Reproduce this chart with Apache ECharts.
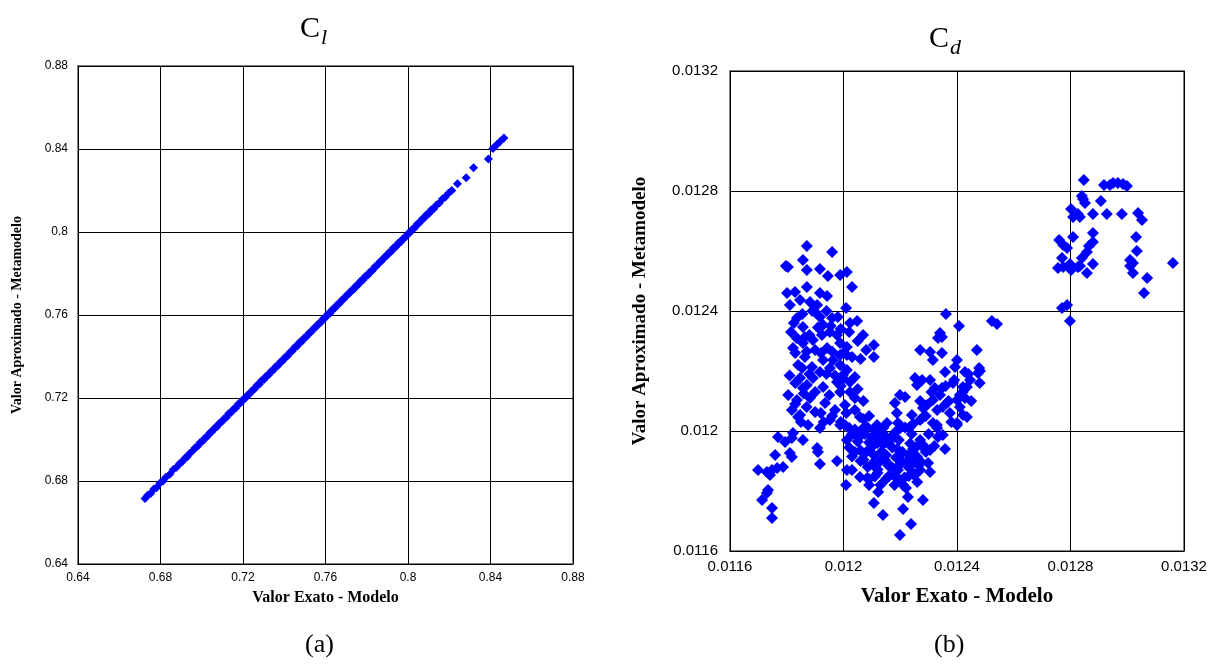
<!DOCTYPE html>
<html>
<head>
<meta charset="utf-8">
<title>Cl / Cd – Valor Exato vs. Metamodelo</title>
<script src="https://cdn.jsdelivr.net/npm/echarts@6/dist/echarts.min.js"></script>
<style>
  html, body { margin: 0; padding: 0; background: #fff; }
  #chart { width: 1220px; height: 664px; }
</style>
</head>
<body>
<div id="chart"></div>
<script>
// Lift coefficient: exact (model) vs. approximated (metamodel)
const clExact = [0.6725,0.6738,0.6752,0.6768,0.6781,0.6797,0.6812,0.6826,0.6845,0.6862,0.6878,0.6893,0.6905,0.6918,0.6930,0.6941,0.6955,0.6968,0.6980,0.6992,0.7004,0.7015,0.7027,0.7038,0.7049,0.7061,0.7073,0.7084,0.7096,0.7108,0.7119,0.7130,0.7142,0.7153,0.7165,0.7176,0.7188,0.7199,0.7210,0.7222,0.7233,0.7245,0.7256,0.7268,0.7279,0.7290,0.7302,0.7313,0.7325,0.7336,0.7348,0.7359,0.7370,0.7382,0.7393,0.7405,0.7416,0.7428,0.7439,0.7450,0.7462,0.7473,0.7485,0.7496,0.7508,0.7519,0.7530,0.7542,0.7553,0.7565,0.7576,0.7588,0.7599,0.7610,0.7622,0.7633,0.7645,0.7656,0.7668,0.7679,0.7690,0.7702,0.7713,0.7725,0.7736,0.7748,0.7759,0.7770,0.7782,0.7793,0.7805,0.7816,0.7828,0.7839,0.7850,0.7862,0.7873,0.7885,0.7896,0.7908,0.7919,0.7930,0.7942,0.7953,0.7965,0.7976,0.7988,0.7999,0.8010,0.8022,0.8033,0.8045,0.8056,0.8068,0.8079,0.8090,0.8102,0.8113,0.8125,0.8138,0.8152,0.8168,0.8180,0.8196,0.8212,0.8240,0.8282,0.8318,0.8390,0.8412,0.8430,0.8448,0.8465];
const clMeta = [0.6716,0.6731,0.6740,0.6761,0.6768,0.6789,0.6800,0.6818,0.6832,0.6855,0.6866,0.6884,0.6893,0.6910,0.6917,0.6933,0.6944,0.6960,0.6968,0.6985,0.6992,0.7007,0.7014,0.7031,0.7037,0.7054,0.7060,0.7077,0.7084,0.7100,0.7106,0.7124,0.7130,0.7146,0.7152,0.7170,0.7176,0.7192,0.7198,0.7215,0.7221,0.7237,0.7243,0.7261,0.7266,0.7284,0.7289,0.7306,0.7312,0.7329,0.7335,0.7352,0.7357,0.7375,0.7380,0.7398,0.7403,0.7421,0.7426,0.7444,0.7449,0.7467,0.7472,0.7489,0.7495,0.7512,0.7518,0.7535,0.7541,0.7558,0.7563,0.7581,0.7587,0.7604,0.7609,0.7627,0.7632,0.7649,0.7655,0.7672,0.7678,0.7695,0.7701,0.7718,0.7723,0.7741,0.7746,0.7764,0.7769,0.7787,0.7792,0.7809,0.7815,0.7833,0.7838,0.7855,0.7861,0.7878,0.7884,0.7901,0.7906,0.7924,0.7929,0.7947,0.7952,0.7969,0.7975,0.7992,0.7998,0.8015,0.8021,0.8038,0.8044,0.8061,0.8067,0.8084,0.8089,0.8107,0.8112,0.8130,0.8140,0.8160,0.8168,0.8187,0.8200,0.8232,0.8262,0.8310,0.8352,0.8402,0.8420,0.8437,0.8453];

// Drag coefficient: exact (model) vs. approximated (metamodel)
const cdExact = [
  0.011871,0.01196,0.011804,0.011797,0.011857,0.011871,0.011917,0.011945,0.011988,0.012012,0.01203,
  0.011801,0.011829,0.011871,0.011917,0.011942,0.011811,0.011847,0.011882,0.011907,0.0119,0.012009,
  0.011836,0.011857,0.011917,0.01196,0.011928,0.012023,0.012048,0.012069,0.012107,0.012107,
  0.011864,0.011822,0.011857,0.011892,0.011924,0.011952,0.011977,0.011988,0.012012,0.011942,0.0119,
  0.011864,0.011928,0.011963,0.011988,0.012012,0.01203,0.011854,0.011889,0.011917,0.011952,0.011988,
  0.012012,0.012023,0.011977,0.011928,0.011871,0.011847,0.011892,0.011857,0.011998,0.011988,0.012023,
  0.011836,0.011882,0.011935,0.01197,0.0119,0.011847,0.012005,0.01204,0.011818,0.01184,0.011952,
  0.011875,0.011917,0.011988,
  0.011769,0.011794,0.011818,0.011822,0.011857,0.011759,0.011811,0.011818,0.011699,0.01173,0.011748,
  0.011766,0.011787,0.011741,0.011907,0.01191,0.011917,0.011977,0.012012,0.01203,0.012009,0.012058,
  0.012083,0.011734,0.01173,0.011713,0.011748,0.011748,
  0.012005,0.01204,0.012076,0.012111,0.012146,0.012181,0.012217,
  0.012012,0.012052,0.01209,0.012125,0.01216,0.012195,0.012235,0.01227,
  0.01202,0.01206,0.0121,0.012135,0.012172,0.012208,0.012245,0.012282,
  0.01203,0.01207,0.012108,0.012148,0.012185,0.012222,0.012258,
  0.012085,0.01212,0.012158,0.012192,0.01223,0.012265,
  0.01211,0.01215,0.01218,0.012215,0.01225,
  0.01205,0.012128,0.0122,0.01214,
  0.01209,0.012122,0.012107,0.012139,0.012199,0.01221,0.012227,0.012238,0.01228,0.012199,0.01221,
  0.012305,0.012298,0.01228,0.012305,0.012259,0.012234,0.01227,0.012245,0.012358,0.012333,0.01235,
  0.012361,0.012407,0.012523,0.012541,0.01234,0.012333,0.012347,0.01247,0.01227,0.012305,0.012347,
  0.012315,0.0124,0.012393,0.012428,0.012358,0.012478,0.012481,0.012252,0.012277,0.012305,0.012259,
  0.012446,0.012435,0.012386,0.012347,0.01234,0.012315,0.012294,0.01228,0.012199,0.012217,0.012181,
  0.012188,0.012241,0.012277,0.01241,0.0124,0.012428,0.012368,0.012375,0.01241,0.012421,0.01235,
  0.012153,0.012192,0.012245,0.012315,0.0124,0.012474,0.012421,0.012322,0.0124,0.012329,0.012435,
  0.012058,0.012083,0.012118,0.012199,0.012234,0.01227,
  0.012847,0.012918,0.012939,0.01295,0.012967,0.012985,0.012999,0.01284,0.012844,0.012851,0.012907,
  0.012802,0.012809,0.012826,0.012833,0.012879,0.012928,0.012981,0.013038,0.013052,0.012879,0.012809,
  0.01276,0.012774,0.012788,0.012879,0.012865,0.012858,0.01284,0.012833,0.013031,0.013034,0.01301,
  0.01302,0.01301,0.01302,0.01277,0.012756,0.012774,0.012798,0.012802,0.012826,0.012858,0.012879,
  0.01307,0.013059,0.013161,0.01277,0.012788,0.012798,
  // dense core of the left branch
  0.011815,0.011835,0.01188,0.01191,0.011955,0.01199,0.01183,0.01187,0.01192,0.01196,0.012,0.01184,
  0.01188,0.01194,0.01197,0.012,0.01183,0.01186,0.0119,0.01195,0.01199,0.01205,0.01183,0.01187,
  0.01192,0.01196,0.01201,0.01204,0.01207,0.01185,0.01193,0.01199,0.01202,0.01206,0.01181,0.011805,
  0.011825,0.011855,0.01189,0.01194,0.01198,0.01202,0.01205,0.01208,0.01206,0.01204,0.01207,0.01209,
  // dense core of the valley
  0.01203,0.01207,0.0121,0.01214,0.01217,0.0122,0.01204,0.01208,0.01212,0.01215,0.01219,0.01223,
  0.01206,0.0121,0.01213,0.01217,0.0122,0.01224,0.01212,0.01216,0.01219,0.01223,0.01227,0.01213,
  0.01218,0.01222,0.01226,0.01209,0.01226,0.01229,
  // rising right branch
  0.01227,0.01231,0.01236,0.01239,0.01244,0.01229,0.01233,0.01237,0.01242,0.01233,0.01238,0.01245,
  0.01248,0.01232,0.01224,0.0123
];
const cdMeta = [
  0.012617,0.012597,0.012547,0.01255,0.01257,0.012537,0.01254,0.012517,0.01252,0.01253,0.01248,
  0.01246,0.012463,0.01248,0.01246,0.01245,0.01242,0.012437,0.01243,0.01242,0.012397,0.01241,
  0.012377,0.012347,0.01238,0.012377,0.012353,0.01236,0.012367,0.01232,0.012287,0.012247,
  0.012313,0.012277,0.012293,0.012303,0.01232,0.01233,0.01232,0.012293,0.01228,0.012277,0.01227,
  0.012247,0.012237,0.012237,0.012253,0.012253,0.012247,0.01221,0.012213,0.012197,0.01221,0.01222,
  0.012203,0.012163,0.012163,0.012147,0.012153,0.012177,0.012177,0.012143,0.012187,0.01213,0.01213,
  0.012103,0.01211,0.012093,0.01207,0.012063,0.012053,0.012087,0.01211,0.01207,0.012047,0.012037,
  0.01202,0.01201,0.01202,
  0.01198,0.011963,0.011977,0.011993,0.01197,0.01192,0.011927,0.011913,0.01187,0.011863,0.01187,
  0.011877,0.01188,0.011853,0.011943,0.01193,0.01189,0.0119,0.01187,0.01187,0.01182,0.011847,
  0.011843,0.011803,0.011793,0.01177,0.011743,0.01171,
  0.01202,0.012005,0.01199,0.012003,0.011985,0.011995,0.012012,
  0.01197,0.011977,0.011962,0.011975,0.011962,0.01197,0.011958,0.01197,
  0.011945,0.011935,0.011947,0.011932,0.011945,0.01193,0.01194,0.011952,
  0.011915,0.011905,0.011918,0.011902,0.011912,0.011898,0.011915,
  0.01188,0.011872,0.011885,0.01187,0.011878,0.011885,
  0.011848,0.01184,0.011852,0.011845,0.011852,
  0.011965,0.01199,0.011905,0.011955,
  0.01182,0.011797,0.01176,0.01172,0.011653,0.01174,0.01178,0.01169,0.01177,0.011837,0.01182,
  0.011863,0.011893,0.011947,0.011937,0.011913,0.0119,0.01187,0.01186,0.01194,0.01198,0.011987,
  0.01239,0.01235,0.012367,0.012357,0.012327,0.01231,0.012313,0.01227,0.01227,0.012263,0.01226,
  0.012237,0.012237,0.012213,0.012197,0.012197,0.01221,0.0122,0.012177,0.01217,0.01217,0.012153,
  0.01217,0.012147,0.01216,0.012143,0.01212,0.012103,0.012087,0.012077,0.01212,0.012113,0.012093,
  0.01206,0.012053,0.012043,0.01212,0.012103,0.01211,0.012097,0.01206,0.01208,0.012053,0.01208,
  0.012027,0.012027,0.012023,0.012027,0.012027,0.012193,0.012147,0.012143,0.01202,0.01202,0.012047,
  0.012047,0.012013,0.01202,0.01201,0.012013,0.012037,
  0.012837,0.01282,0.01282,0.012827,0.012827,0.012823,0.012817,0.012783,0.012773,0.01276,0.012767,
  0.01274,0.012713,0.012723,0.012713,0.012723,0.012723,0.012723,0.012727,0.012703,0.01266,0.012647,
  0.012637,0.01262,0.01261,0.01263,0.012617,0.012597,0.012577,0.01255,0.012647,0.0126,0.01257,
  0.01256,0.01255,0.012527,0.012577,0.012543,0.012547,0.012557,0.012537,0.012547,0.012527,0.012557,
  0.01251,0.01246,0.01256,0.01241,0.01242,0.012367,
  // dense core of the left branch
  0.01233,0.01231,0.01232,0.012345,0.01235,0.01234,0.01226,0.012265,0.01226,0.012265,0.01226,0.01222,
  0.01219,0.01219,0.012185,0.012175,0.01216,0.012125,0.01213,0.01212,0.01215,0.01214,0.01209,0.01208,
  0.01206,0.01205,0.01206,0.01207,0.01204,0.01203,0.01203,0.01203,0.01201,0.01199,0.012185,0.01212,
  0.01236,0.01239,0.0124,0.0124,0.01238,0.01233,0.0123,0.01227,0.01224,0.01218,0.0121,0.01205,
  // dense core of the valley
  0.01199,0.01201,0.01198,0.01201,0.01198,0.01201,0.01193,0.01193,0.01196,0.01192,0.01194,0.01192,
  0.0119,0.01189,0.0119,0.01188,0.01189,0.01189,0.01186,0.01185,0.01184,0.01185,0.0119,0.01182,
  0.01182,0.01181,0.01183,0.01184,0.01195,0.01193,
  // rising right branch
  0.0121,0.01213,0.01215,0.01217,0.01219,0.01205,0.01207,0.0121,0.01213,0.01201,0.01203,0.0121,
  0.01216,0.01195,0.01199,0.01199
];

// Axis ticks for each panel
const clTicks = [0.64, 0.68, 0.72, 0.76, 0.8, 0.84, 0.88];
const cdTicks = [0.0116, 0.012, 0.0124, 0.0128, 0.0132];

const pairs = (xs, ys) => xs.map((x, i) => [x, ys[i]]);

const serif = '"Liberation Serif", "DejaVu Serif", serif';
const sans = '"Liberation Sans", Arial, sans-serif';
const blue = '#0000ff';

function valueAxis(gridIndex, ticks, extra) {
  return Object.assign({
    type: 'value',
    gridIndex: gridIndex,
    min: ticks[0],
    max: ticks[ticks.length - 1],
    interval: +(ticks[1] - ticks[0]).toFixed(6),
    axisLine: { show: false },
    axisTick: { show: false },
    splitLine: { show: true, lineStyle: { color: '#000', width: 1 } },
    nameLocation: 'middle'
  }, extra);
}

const fmt = v => String(+v.toFixed(6));

const chart = echarts.init(document.getElementById('chart'), null, { renderer: 'canvas' });

chart.setOption({
  backgroundColor: '#fff',
  animation: false,
  grid: [
    { left: 78, top: 66, width: 495, height: 498, show: true, borderColor: '#808080', borderWidth: 2, backgroundColor: '#fff' },
    { left: 730, top: 71, width: 454, height: 480, show: true, borderColor: '#808080', borderWidth: 2, backgroundColor: '#fff' }
  ],
  xAxis: [
    valueAxis(0, clTicks, {
      name: 'Valor Exato - Modelo', nameGap: 26,
      nameTextStyle: { fontFamily: serif, fontWeight: 'bold', color: '#000', fontSize: 16 },
      axisLabel: { color: '#000', fontFamily: sans, fontSize: 12, margin: 8, formatter: fmt }
    }),
    valueAxis(1, cdTicks, {
      name: 'Valor Exato - Modelo', nameGap: 35,
      nameTextStyle: { fontFamily: serif, fontWeight: 'bold', color: '#000', fontSize: 21 },
      axisLabel: { color: '#000', fontFamily: sans, fontSize: 15, margin: 8, formatter: fmt }
    })
  ],
  yAxis: [
    valueAxis(0, clTicks, {
      name: 'Valor Aproximado - Metamodelo', nameGap: 54,
      nameTextStyle: { fontFamily: serif, fontWeight: 'bold', color: '#000', fontSize: 14 },
      axisLabel: { color: '#000', fontFamily: sans, fontSize: 12, margin: 10, formatter: fmt }
    }),
    valueAxis(1, cdTicks, {
      name: 'Valor Aproximado - Metamodelo', nameGap: 80,
      nameTextStyle: { fontFamily: serif, fontWeight: 'bold', color: '#000', fontSize: 19 },
      axisLabel: { color: '#000', fontFamily: sans, fontSize: 15, margin: 12, formatter: fmt }
    })
  ],
  series: [
    {
      type: 'scatter', xAxisIndex: 0, yAxisIndex: 0,
      symbol: 'diamond', symbolSize: 9,
      itemStyle: { color: blue, opacity: 1 },
      data: pairs(clExact, clMeta)
    },
    {
      type: 'scatter', xAxisIndex: 1, yAxisIndex: 1,
      symbol: 'diamond', symbolSize: 12,
      itemStyle: { color: blue, opacity: 1 },
      data: pairs(cdExact, cdMeta)
    }
  ],
  graphic: [
    // panel titles: C with italic subscript
    { type: 'text', left: 300, top: 14, style: { text: 'C', font: '30px ' + serif, fill: '#000' } },
    { type: 'text', left: 321, top: 27, style: { text: 'l', font: 'italic 22px ' + serif, fill: '#000' } },
    { type: 'text', left: 929, top: 24, style: { text: 'C', font: '30px ' + serif, fill: '#000' } },
    { type: 'text', left: 950, top: 37, style: { text: 'd', font: 'italic 22px ' + serif, fill: '#000' } },
    // panel captions
    { type: 'text', left: 305, top: 632, style: { text: '(a)', font: '26px ' + serif, fill: '#000' } },
    { type: 'text', left: 934, top: 632, style: { text: '(b)', font: '26px ' + serif, fill: '#000' } }
  ]
});
</script>
</body>
</html>
